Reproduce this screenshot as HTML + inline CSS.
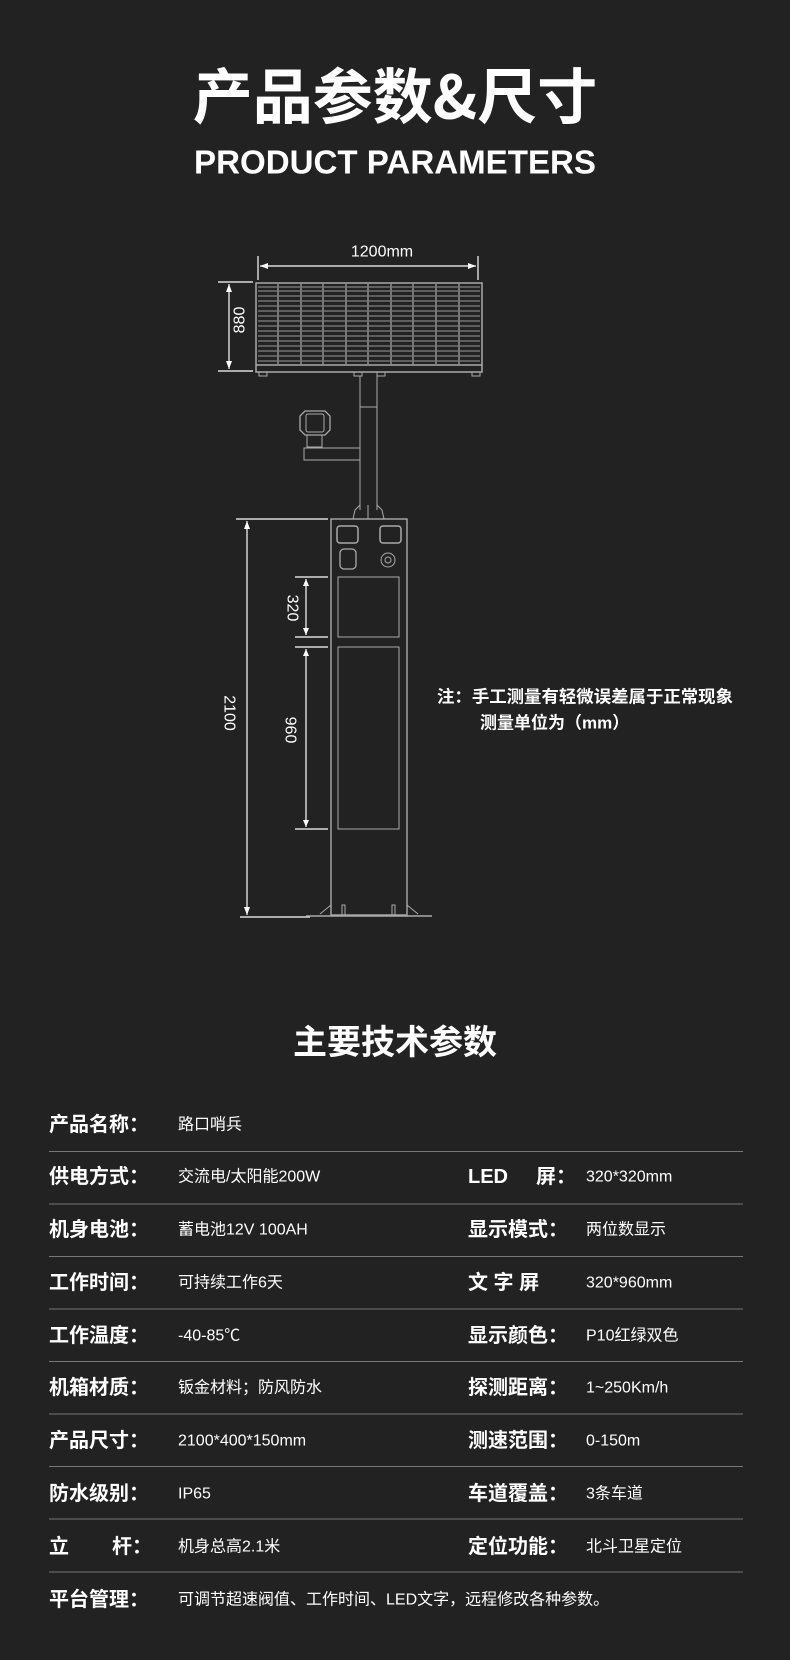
<!DOCTYPE html>
<html><head><meta charset="utf-8"><style>
html,body{margin:0;padding:0;background:#222222;}
svg{display:block}
text{font-family:"Liberation Sans","Noto Sans CJK SC",sans-serif;fill:#fff}
</style></head><body>
<svg width="790" height="1660" viewBox="0 0 790 1660" xmlns="http://www.w3.org/2000/svg">
<rect width="790" height="1660" fill="#222222"/>
<text x="395" y="93" text-anchor="middle" dominant-baseline="central" font-size="60" font-weight="bold" style="font-family:'Noto Sans CJK SC',sans-serif">产品参数&amp;尺寸</text>
<text x="395" y="162" text-anchor="middle" dominant-baseline="central" font-size="33" font-weight="bold" textLength="402" lengthAdjust="spacingAndGlyphs">PRODUCT PARAMETERS</text>

<!-- dims -->
<g stroke="#fff" stroke-width="1.2" fill="none">
<line x1="258" y1="256" x2="258" y2="280"/><line x1="478" y1="256" x2="478" y2="280"/>
<line x1="260" y1="266" x2="476" y2="266"/>
<line x1="218" y1="282" x2="253" y2="282"/><line x1="218" y1="371" x2="253" y2="371"/>
<line x1="229" y1="284" x2="229" y2="369"/>
<line x1="236" y1="519" x2="328" y2="519"/><line x1="240" y1="917" x2="310" y2="917"/>
<line x1="247" y1="521" x2="247" y2="915"/>
<line x1="295" y1="577" x2="328" y2="577"/><line x1="295" y1="637" x2="328" y2="637"/>
<line x1="295" y1="647" x2="328" y2="647"/><line x1="295" y1="829" x2="328" y2="829"/>
<line x1="306" y1="579" x2="306" y2="635"/><line x1="306" y1="649" x2="306" y2="827"/>
</g>
<g fill="#fff">
<polygon points="260,266 268,263 268,269"/><polygon points="476,266 468,263 468,269"/>
<polygon points="229,284 226,292 232,292"/><polygon points="229,369 226,361 232,361"/>
<polygon points="247,521 244,529 250,529"/><polygon points="247,915 244,907 250,907"/>
<polygon points="306,579 303,586 309,586"/><polygon points="306,635 303,628 309,628"/>
<polygon points="306,649 303,656 309,656"/><polygon points="306,827 303,820 309,820"/>
</g>
<text x="382" y="252" text-anchor="middle" dominant-baseline="central" font-size="16">1200mm</text>
<text transform="translate(240,320) rotate(-90)" text-anchor="middle" dominant-baseline="central" font-size="16">880</text>
<text transform="translate(229,713) rotate(90)" text-anchor="middle" dominant-baseline="central" font-size="16">2100</text>
<text transform="translate(292,608) rotate(90)" text-anchor="middle" dominant-baseline="central" font-size="16">320</text>
<text transform="translate(290,730) rotate(90)" text-anchor="middle" dominant-baseline="central" font-size="16">960</text>

<!-- solar panel -->
<g stroke="#aaa" fill="none">
<rect x="256" y="283" width="226" height="89" stroke-width="1.5"/>
<line x1="256" y1="365" x2="482" y2="365" stroke-width="1.5"/>
</g>
<g stroke="#999" stroke-width="1">
<line x1="258" y1="287" x2="480" y2="287"/><line x1="258" y1="291" x2="480" y2="291"/>
<line x1="258" y1="296" x2="480" y2="296"/><line x1="258" y1="301" x2="480" y2="301"/>
<line x1="258" y1="306" x2="480" y2="306"/><line x1="258" y1="311" x2="480" y2="311"/>
<line x1="258" y1="316" x2="480" y2="316"/><line x1="258" y1="321" x2="480" y2="321"/>
<line x1="258" y1="326" x2="480" y2="326"/><line x1="258" y1="331" x2="480" y2="331"/>
<line x1="258" y1="336" x2="480" y2="336"/><line x1="258" y1="341" x2="480" y2="341"/>
<line x1="258" y1="346" x2="480" y2="346"/><line x1="258" y1="351" x2="480" y2="351"/>
<line x1="258" y1="356" x2="480" y2="356"/><line x1="258" y1="361" x2="480" y2="361"/>
</g>
<g stroke="#777" stroke-width="2">
<line x1="278" y1="284" x2="278" y2="364"/><line x1="301" y1="284" x2="301" y2="364"/>
<line x1="323" y1="284" x2="323" y2="364"/><line x1="346" y1="284" x2="346" y2="364"/>
<line x1="368" y1="284" x2="368" y2="364"/><line x1="391" y1="284" x2="391" y2="364"/>
<line x1="413" y1="284" x2="413" y2="364"/><line x1="436" y1="284" x2="436" y2="364"/>
<line x1="459" y1="284" x2="459" y2="364"/>
</g>
<g stroke="#aaa" fill="none" stroke-width="1">
<rect x="259" y="372" width="8" height="4"/><rect x="354" y="372" width="8" height="4"/>
<rect x="377" y="372" width="8" height="4"/><rect x="472" y="372" width="8" height="4"/>
<!-- pole -->
<line x1="360" y1="376" x2="360" y2="510"/><line x1="377" y1="376" x2="377" y2="510"/>
<line x1="360" y1="407" x2="377" y2="407"/>
<path d="M360,505 L355,510 L353,519 M377,505 L382,510 L384,519"/>
<line x1="368" y1="505" x2="368" y2="519"/>
<!-- camera -->
<polygon points="305,411 325,411 330,416 330,430 325,435 305,435 300,430 300,416" stroke-width="1.3"/>
<rect x="306" y="414" width="18" height="18" rx="2"/>
<rect x="307" y="435" width="15" height="12"/>
<rect x="304" y="448" width="56" height="12"/>
<!-- cabinet -->
<rect x="331" y="519" width="76" height="396" stroke-width="1.4"/>
<line x1="306" y1="916" x2="432" y2="916" stroke-width="1.4"/>
<path d="M331,905 L320,914 M407,905 L418,914"/>
<rect x="337" y="526" width="21" height="17" rx="3" stroke-width="1.5"/>
<rect x="380" y="526" width="21" height="17" rx="3" stroke-width="1.5"/>
<rect x="340" y="549" width="16" height="20" rx="4" stroke-width="1.3"/>
<circle cx="388" cy="560" r="7"/><circle cx="388" cy="560" r="3"/>
<rect x="338" y="577" width="61" height="60"/>
<rect x="338" y="647" width="61" height="182"/>
<rect x="342" y="905" width="3" height="10"/><rect x="392" y="905" width="3" height="10"/>
</g>

<text x="437" y="697" dominant-baseline="central" font-size="17" font-weight="bold" textLength="296" lengthAdjust="spacingAndGlyphs">注：手工测量有轻微误差属于正常现象</text>
<text x="480" y="723" dominant-baseline="central" font-size="17" font-weight="bold">测量单位为（mm）</text>

<text x="395" y="1043" text-anchor="middle" dominant-baseline="central" font-size="34" font-weight="bold">主要技术参数</text>

<g stroke="#777" stroke-width="1">
<line x1="49" y1="1151.5" x2="743" y2="1151.5"/><line x1="49" y1="1204" x2="743" y2="1204"/>
<line x1="49" y1="1256.5" x2="743" y2="1256.5"/><line x1="49" y1="1309" x2="743" y2="1309"/>
<line x1="49" y1="1361.5" x2="743" y2="1361.5"/><line x1="49" y1="1414" x2="743" y2="1414"/>
<line x1="49" y1="1466.5" x2="743" y2="1466.5"/><line x1="49" y1="1519" x2="743" y2="1519"/>
<line x1="49" y1="1572" x2="743" y2="1572"/>
</g>
<g font-size="20" font-weight="bold" dominant-baseline="central">
<text x="49" y="1125">产品名称：</text>
<text x="49" y="1177">供电方式：</text>
<text x="49" y="1230">机身电池：</text>
<text x="49" y="1283">工作时间：</text>
<text x="49" y="1336">工作温度：</text>
<text x="49" y="1388">机箱材质：</text>
<text x="49" y="1441">产品尺寸：</text>
<text x="49" y="1494">防水级别：</text>
<text x="49" y="1547">立</text><text x="112" y="1547">杆：</text>
<text x="49" y="1600">平台管理：</text>
<text x="468" y="1177">LED</text><text x="536" y="1177">屏：</text>
<text x="468" y="1230">显示模式：</text>
<text x="468" y="1283">文 字 屏</text>
<text x="468" y="1336">显示颜色：</text>
<text x="468" y="1388">探测距离：</text>
<text x="468" y="1441">测速范围：</text>
<text x="468" y="1494">车道覆盖：</text>
<text x="468" y="1547">定位功能：</text>
</g>
<g font-size="16" dominant-baseline="central">
<text x="178" y="1125">路口哨兵</text>
<text x="178" y="1177">交流电/太阳能200W</text>
<text x="178" y="1230">蓄电池12V  100AH</text>
<text x="178" y="1283">可持续工作6天</text>
<text x="178" y="1336">-40-85℃</text>
<text x="178" y="1388">钣金材料；防风防水</text>
<text x="178" y="1441">2100*400*150mm</text>
<text x="178" y="1494">IP65</text>
<text x="178" y="1547">机身总高2.1米</text>
<text x="178" y="1600">可调节超速阀值、工作时间、LED文字，远程修改各种参数。</text>
<text x="586" y="1177">320*320mm</text>
<text x="586" y="1230">两位数显示</text>
<text x="586" y="1283">320*960mm</text>
<text x="586" y="1336">P10红绿双色</text>
<text x="586" y="1388">1~250Km/h</text>
<text x="586" y="1441">0-150m</text>
<text x="586" y="1494">3条车道</text>
<text x="586" y="1547">北斗卫星定位</text>
</g>
</svg>
</body></html>
